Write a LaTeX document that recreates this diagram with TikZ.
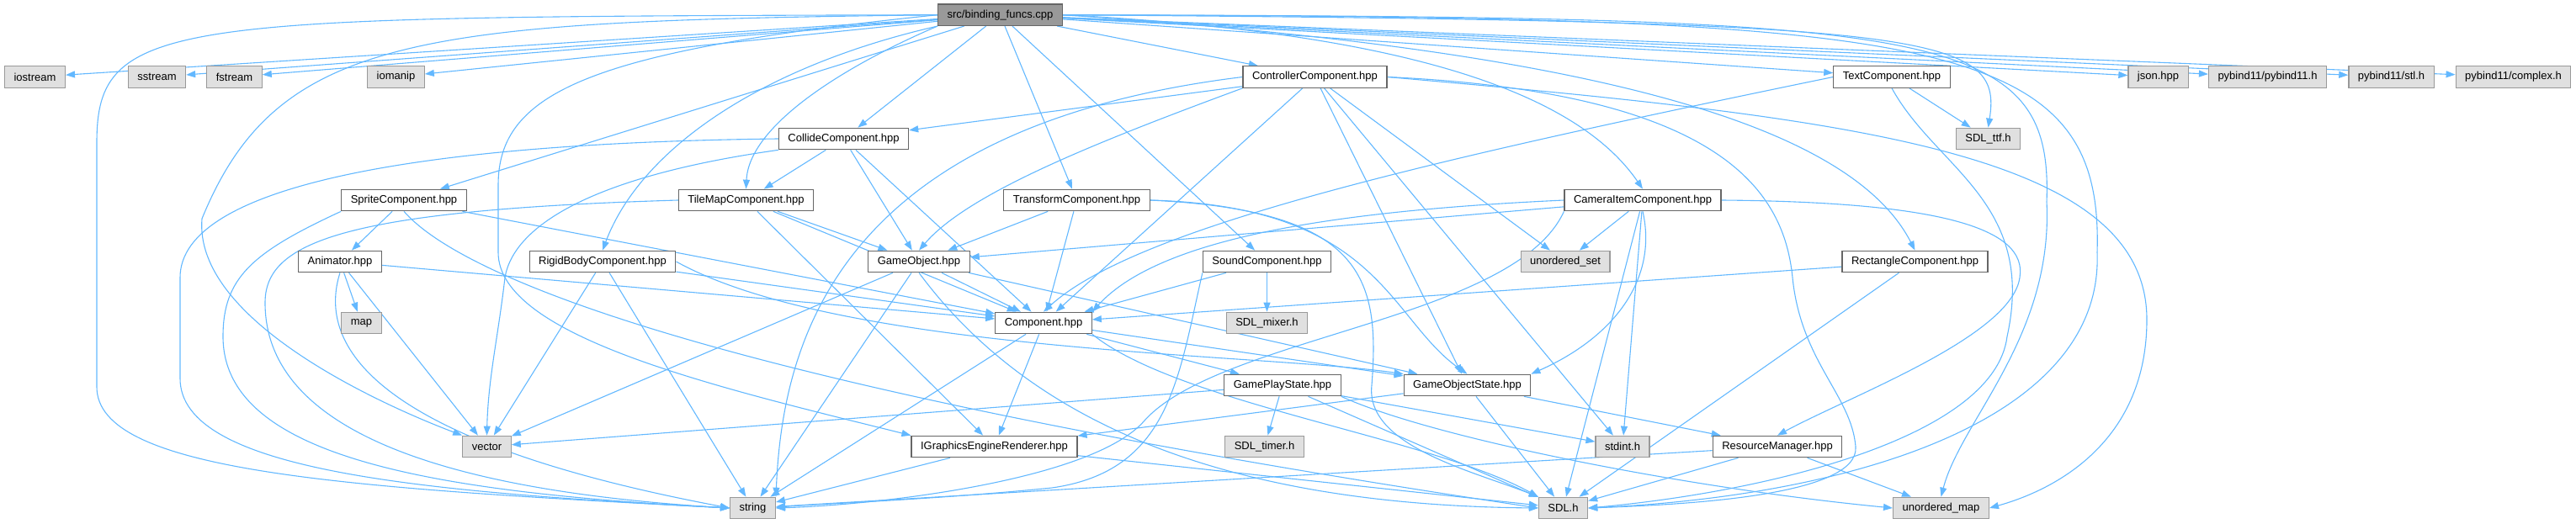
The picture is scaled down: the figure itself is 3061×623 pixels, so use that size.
\documentclass[tikz,border=0pt]{standalone}
\usepackage{fontspec}
\setmainfont{Liberation Sans}
\usepackage{tikz}
\usetikzlibrary{arrows.meta,backgrounds}
\definecolor{edgeblue}{HTML}{63B8FF}
\definecolor{boxline}{HTML}{666666}
\definecolor{extline}{HTML}{999999}
\definecolor{extfill}{HTML}{E0E0E0}
\definecolor{rootfill}{HTML}{999999}
\tikzset{
  inc/.style={rectangle, font=\fontsize{13}{15}\selectfont, inner xsep=11pt, inner ysep=0pt,
              minimum height=25.5pt, line width=1.2pt},
  inc file/.style={inc, draw=boxline, fill=white},
  inc ext/.style={inc, draw=extline, fill=extfill},
  inc root/.style={inc, draw=boxline, fill=rootfill},
  inc arr/.style={-{Triangle[length=11pt, width=8pt]}, line width=1.1pt, edgeblue},
}
\begin{document}
\begin{tikzpicture}[x=1pt, y=-1pt]
  \useasboundingbox (0,0) rectangle (3061,623);
  % row 0 and 1
  \node[inc root] (root) at (1188.5,17.7) {src/binding\_funcs.cpp};
  \node[inc ext] (ios) at (41.5,91.5) {iostream};
  \node[inc ext] (sst) at (186.5,91.5) {sstream};
  \node[inc ext] (fst) at (278.5,91.5) {fstream};
  \node[inc ext] (iom) at (470.5,91.5) {iomanip};
  \node[inc file] (ctrl) at (1562.5,91.5) {ControllerComponent.hpp};
  \node[inc file] (text) at (2248,91.5) {TextComponent.hpp};
  \node[inc ext] (json) at (2564.5,91.5) {json.hpp};
  \node[inc ext] (pyb) at (2694.5,91.5) {pybind11/pybind11.h};
  \node[inc ext] (stl) at (2841.5,91.5) {pybind11/stl.h};
  \node[inc ext] (cplx) at (2986.5,91.5) {pybind11/complex.h};
  % rows 2 to 5
  \node[inc file] (coll) at (1002.5,165) {CollideComponent.hpp};
  \node[inc ext] (ttf) at (2362.5,165) {SDL\_ttf.h};
  \node[inc file] (spr) at (480,238) {SpriteComponent.hpp};
  \node[inc file] (tmap) at (886.5,238) {TileMapComponent.hpp};
  \node[inc file] (tf) at (1279.5,238) {TransformComponent.hpp};
  \node[inc file] (cam) at (1952,238) {CameraItemComponent.hpp};
  \node[inc file] (anim) at (404,311) {Animator.hpp};
  \node[inc file] (rb) at (716,311) {RigidBodyComponent.hpp};
  \node[inc file] (go) at (1092,311) {GameObject.hpp};
  \node[inc file] (snd) at (1505.5,311) {SoundComponent.hpp};
  \node[inc ext] (uset) at (1860,311) {unordered\_set};
  \node[inc file] (rect) at (2275.5,311) {RectangleComponent.hpp};
  \node[inc ext] (map) at (429.5,384) {map};
  \node[inc file] (comp) at (1240,384) {Component.hpp};
  \node[inc ext] (mix) at (1505.5,384) {SDL\_mixer.h};
  % rows 6 to 8
  \node[inc file] (gps) at (1524,458) {GamePlayState.hpp};
  \node[inc file] (gos) at (1743.5,458) {GameObjectState.hpp};
  \node[inc ext] (vec) at (578.5,531) {vector};
  \node[inc file] (igr) at (1181.5,531) {IGraphicsEngineRenderer.hpp};
  \node[inc ext] (tmr) at (1502.5,531) {SDL\_timer.h};
  \node[inc ext] (sint) at (1928,531) {stdint.h};
  \node[inc file] (rm) at (2112,531) {ResourceManager.hpp};
  \node[inc ext] (str) at (894.5,604) {string};
  \node[inc ext] (sdl) at (1857.5,604) {SDL.h};
  \node[inc ext] (umap) at (2306.5,604) {unordered\_map};

  \begin{scope}[on background layer]
  \foreach \a/\b in {root/ios,root/sst,root/fst,root/iom,root/spr,root/coll,root/tf,root/snd,
      root/ctrl,root/text,root/json,root/pyb,root/stl,root/cplx,
      ctrl/coll,ctrl/comp,ctrl/gos,ctrl/sint,ctrl/uset,
      text/ttf,coll/tmap,coll/go,coll/comp,
      spr/anim,spr/comp,tmap/go,tmap/comp,tmap/igr,
      tf/go,tf/comp,cam/go,cam/uset,cam/sint,cam/sdl,
      rect/comp,rect/sdl,snd/comp,snd/mix,anim/map,anim/vec,anim/comp,
      rb/comp,rb/vec,rb/str,go/comp,go/gos,go/vec,go/str,
      comp/gos,comp/gps,comp/igr,comp/str,
      gps/vec,gps/tmr,gps/sdl,gps/sint,gos/rm,gos/sdl,gos/igr,
      rm/sdl,rm/umap,rm/str,igr/str,igr/sdl}
    \draw[inc arr] (\a) -- (\b);
  % long routes round the other boxes
  \draw[inc arr] (root.west) .. controls (200,20) and (115,20) .. (115,170) -- (115,460)
    .. controls (115,560) and (400,580) .. (str.west);
  \draw[inc arr] (root.west) .. controls (500,25) and (330,40) .. (240,260)
    .. controls (230,380) and (450,480) .. (vec.north west);
  \draw[inc arr] (root.west) .. controls (700,60) and (592,110) .. (592,220) -- (592,300)
    .. controls (592,400) and (850,460) .. (igr.north west);
  \draw[inc arr] (root.south west) .. controls (1000,80) and (890,150) .. (tmap.north);
  \draw[inc arr] (root.south west) .. controls (900,80) and (760,180) .. (rb.north);
  \draw[inc arr] (root.east) .. controls (1700,40) and (1880,120) .. (cam.north);
  \draw[inc arr] (root.east) .. controls (1900,60) and (2200,150) .. (rect.north);
  \draw[inc arr] (root.east) .. controls (2300,25) and (2380,40) .. (ttf.north);
  \draw[inc arr] (root.east) .. controls (2300,20) and (2440,30) .. (2432,240)
    .. controls (2440,400) and (2330,500) .. (umap.north);
  \draw[inc arr] (root.east) .. controls (2300,20) and (2500,40) .. (2492,300)
    .. controls (2500,500) and (2200,590) .. (sdl.east);
  \draw[inc arr] (ctrl.east) .. controls (2200,140) and (2551,180) .. (2551,380)
    .. controls (2551,520) and (2450,580) .. (umap.east);
  \draw[inc arr] (ctrl.east) .. controls (2050,110) and (2120,230) .. (2130,330)
    .. controls (2140,430) and (2200,470) .. (2205,531)
    .. controls (2210,590) and (2000,600) .. (sdl.east);
  \draw[inc arr] (ctrl.west) .. controls (1000,150) and (930,400) .. (str.north east);
  \draw[inc arr] (ctrl.south west) .. controls (1300,170) and (1150,230) .. (go.north);
  \draw[inc arr] (text.west) .. controls (1700,190) and (1350,270) .. (comp.north);
  \draw[inc arr] (text.south) .. controls (2300,200) and (2420,240) .. (2385,400)
    .. controls (2370,520) and (2100,585) .. (sdl.east);
  \draw[inc arr] (coll.west) .. controls (500,170) and (214,220) .. (214,330) -- (214,450)
    .. controls (214,560) and (500,585) .. (str.west);
  \draw[inc arr] (coll.south west) .. controls (700,210) and (610,270) .. (600,330)
    .. controls (592,400) and (580,450) .. (vec.north);
  \draw[inc arr] (spr.south west) .. controls (300,300) and (265,330) .. (265,400)
    .. controls (265,540) and (500,585) .. (str.west);
  \draw[inc arr] (spr.south) .. controls (540,320) and (800,450) .. (sdl.west);
  \draw[inc arr] (tmap.west) .. controls (400,250) and (315,290) .. (315,360)
    .. controls (315,520) and (550,585) .. (str.west);
  \draw[inc arr] (anim.south) .. controls (380,400) and (420,520) .. (str.west);
  \draw[inc arr] (rb.east) .. controls (1000,420) and (1500,420) .. (gos.north west);
  \draw[inc arr] (tf.east) .. controls (1640,245) and (1650,380) .. (gos.north);
  \draw[inc arr] (tf.east) .. controls (1620,250) and (1640,330) .. (1630,458)
    .. controls (1622,530) and (1750,560) .. (sdl.north west);
  \draw[inc arr] (cam.west) .. controls (1600,250) and (1380,280) .. (comp.north east);
  \draw[inc arr] (cam.south) .. controls (1970,330) and (1920,400) .. (gos.north east);
  \draw[inc arr] (cam.south west) .. controls (1800,380) and (1450,400) .. (1360,500)
    .. controls (1300,570) and (1050,600) .. (str.east);
  \draw[inc arr] (cam.east) .. controls (2300,240) and (2410,270) .. (2400,330)
    .. controls (2390,400) and (2200,470) .. (rm.north);
  \draw[inc arr] (snd.south west) .. controls (1400,450) and (1390,560) .. (1250,580)
    .. controls (1100,595) and (950,600) .. (str.east);
  \draw[inc arr] (go.south) .. controls (1200,470) and (1400,600) .. (sdl.west);
  \draw[inc arr] (comp.south east) .. controls (1400,480) and (1700,520) .. (sdl.north west);
  \draw[inc arr] (gps.south east) .. controls (1700,520) and (2000,580) .. (umap.west);
  \end{scope}
\end{tikzpicture}
\end{document}
